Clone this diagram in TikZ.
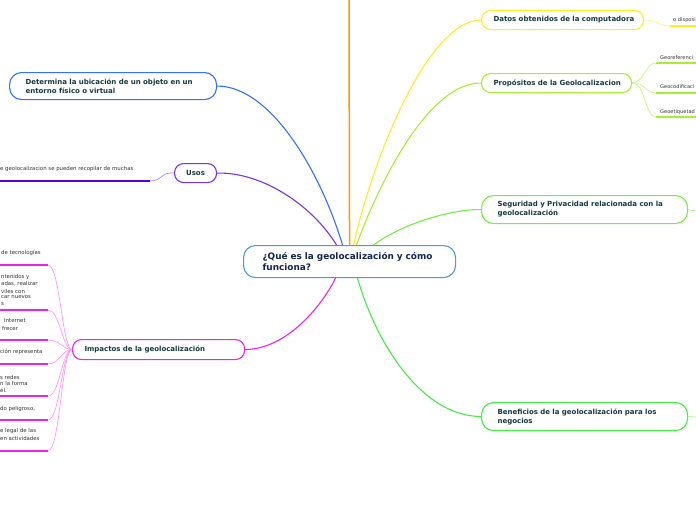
\documentclass[tikz,border=0pt]{standalone}
\usepackage{fontspec}
\setmainfont{DejaVu Sans}
\usetikzlibrary{calc}
\definecolor{boxtext}{HTML}{17393B}
\definecolor{ctext}{HTML}{14244F}
\definecolor{cblue}{HTML}{5599CC}
\definecolor{bblue}{HTML}{3370FF}
\definecolor{bpurple}{HTML}{7733EE}
\definecolor{lpurple}{HTML}{AA88FF}
\definecolor{dpurple}{HTML}{5200E0}
\definecolor{bmag}{HTML}{EE22EE}
\definecolor{lmag}{HTML}{FF99FF}
\definecolor{borange}{HTML}{FF9900}
\definecolor{byellow}{HTML}{FFEE22}
\definecolor{lyellow}{HTML}{FFF588}
\definecolor{blime}{HTML}{AAEE33}
\definecolor{llime}{HTML}{CCF588}
\definecolor{bgreen}{HTML}{77EE44}
\definecolor{bgreen2}{HTML}{44EE44}
\definecolor{lgreen}{HTML}{AAF58A}
\definecolor{leaftext}{HTML}{333333}
\begin{document}
\begin{tikzpicture}[x=1pt,y=-1pt,
  mbox/.style={draw, rounded corners=9pt, line width=1.1pt, fill=white,
    font=\fontsize{7}{9}\selectfont\bfseries, text=boxtext, align=left,
    anchor=north west, inner ysep=0pt},
  leaf/.style={anchor=west, inner sep=0pt, text=leaftext,
    font=\fontsize{5.4}{7}\selectfont},
  branch/.style={line width=1.1pt},
  twig/.style={line width=0.7pt},
  uline/.style={line width=1.6pt}]
\useasboundingbox (0,0) rectangle (696,520);
\clip (0,0) rectangle (696,520);

% central node
\node[mbox, draw=cblue, text=ctext, font=\fontsize{8.9}{11}\selectfont\bfseries,
  inner xsep=19pt, text width=174pt, minimum height=32pt, rounded corners=12pt]
  (c) at (243,245) {¿Qué es la geolocalización y cómo\\funciona?};

% left nodes
\node[mbox, draw=bblue, inner xsep=16pt, text width=175pt, minimum height=27pt, rounded corners=12pt]
  (det) at (9,72) {Determina la ubicación de un objeto en un\\entorno físico o virtual};
\node[mbox, draw=bpurple, inner xsep=6pt, text width=30pt, align=center, minimum height=19pt]
  (usos) at (174,163) {Usos};
\node[mbox, draw=bmag, inner xsep=12pt, text width=148pt, minimum height=20pt]
  (imp) at (72,339) {\mbox{Impactos de la geolocalización}};

% right nodes
\node[mbox, draw=byellow, inner xsep=12pt, text width=138pt, minimum height=19pt]
  (dat) at (481,10) {\mbox{Datos obtenidos de la computadora}};
\node[mbox, draw=blime, inner xsep=12pt, text width=126pt, minimum height=19pt]
  (pro) at (481,73) {\mbox{Propósitos de la Geolocalizacion}};
\node[mbox, draw=bgreen, inner xsep=16pt, text width=174pt, minimum height=28pt, rounded corners=12pt]
  (seg) at (481,195) {Seguridad y Privacidad relacionada con la\\geolocalización};
\node[mbox, draw=bgreen2, inner xsep=16pt, text width=174pt, minimum height=28pt, rounded corners=12pt]
  (ben) at (481,402) {Beneficios de la geolocalización para los\\negocios};

% free ends
\coordinate (top) at (349,0);
\coordinate (segR) at (696,211);
\coordinate (benR) at (696,417);

% main branches
\draw[branch, borange, line width=1.5pt] (c.north) -- (top);
\draw[branch, bblue] (det.east) .. controls (270,86) and (320,170) .. ([xshift=-7pt]c.north);
\draw[branch, bpurple] (usos.east) .. controls (262,172) and (312,205) .. ([xshift=-13pt]c.north);
\draw[branch, bmag] (imp.east) .. controls (290,349) and (325,300) .. ([xshift=-14pt]c.south);
\draw[branch, byellow] ([xshift=4pt]c.north) .. controls (375,150) and (430,20) .. (dat.west);
\draw[branch, blime] ([xshift=7pt]c.north) .. controls (380,180) and (430,82) .. (pro.west);
\draw[branch, bgreen] ([xshift=24pt]c.north) .. controls (400,225) and (450,209) .. (seg.west);
\draw[branch, bgreen2] ([xshift=8pt]c.south) .. controls (375,340) and (420,416) .. (ben.west);
\draw[twig, lgreen] (seg.east) -- (segR);
\draw[twig, lgreen] (ben.east) -- (benR);

% Usos leaf
\node[leaf] (u1) at (0,169) {e geolocalizacion se pueden recopilar de muchas};
\coordinate (u1e) at (150,181);
\coordinate (u1s) at (0,181);
\draw[twig, lpurple] (usos.west) .. controls (160,172) and (163,181) .. (u1e);
\draw[uline, dpurple] (u1e) -- (u1s);

% Datos leaf
\node[leaf, font=\fontsize{5.1}{7}\selectfont] (d1) at (673,20) {o disposi};
\coordinate (d1e) at (670,26);
\coordinate (d1s) at (696,26);
\draw[twig, lyellow] (dat.east) .. controls (658,20) and (658,26) .. (d1e);
\draw[uline, byellow] (d1e) -- (d1s);

% Propositos leaves
\node[leaf, font=\fontsize{5.1}{7}\selectfont] (p1) at (660,58) {Georeferenci};
\node[leaf, font=\fontsize{5.1}{7}\selectfont] (p2) at (660,87) {Geocodificaci};
\node[leaf, font=\fontsize{5.1}{7}\selectfont] (p3) at (660,112) {Geoetiquetad};
\foreach \n/\y in {1/63,2/93,3/117}{
  \coordinate (p\n e) at (656,\y);
  \coordinate (p\n s) at (696,\y);
  \draw[twig, llime] (pro.east) .. controls (645,82) and (645,\y) .. (p\n e);
  \draw[uline, blime] (p\n e) -- (p\n s);
}

% Impactos leaves
\node[leaf] (i1) at (1,253) {de tecnologías};
\node[leaf] (i2a) at (1,277) {ntenidos y};
\node[leaf] (i2b) at (1,284) {adas, realizar};
\node[leaf] (i2c) at (1,291) {viles con};
\node[leaf] (i2d) at (1,297.5) {car nuevos};
\node[leaf] (i2e) at (1,304) {s};
\node[leaf] (i3a) at (4,321) {Internet};
\node[leaf] (i3b) at (2,328) {frecer};
\node[leaf] (i4) at (0,352) {ción representa};
\node[leaf] (i5a) at (0,377) {s redes};
\node[leaf] (i5b) at (0,383.5) {n la forma};
\node[leaf] (i5c) at (0,390) {él.};
\node[leaf] (i6) at (0,409) {do peligroso,};
\node[leaf] (i7a) at (0,431) {e legal de las};
\node[leaf] (i7b) at (0,438.5) {en actividades};
\foreach \n/\y in {1/265,2/310,3/340,4/364,5/396,6/420,7/451}{
  \coordinate (i\n e) at (48,\y);
  \coordinate (i\n s) at (0,\y);
  \draw[twig, lmag] (imp.west) .. controls (62,349) and (60,\y) .. (i\n e);
  \draw[uline, bmag] (i\n e) -- (i\n s);
}
\end{tikzpicture}
\end{document}
